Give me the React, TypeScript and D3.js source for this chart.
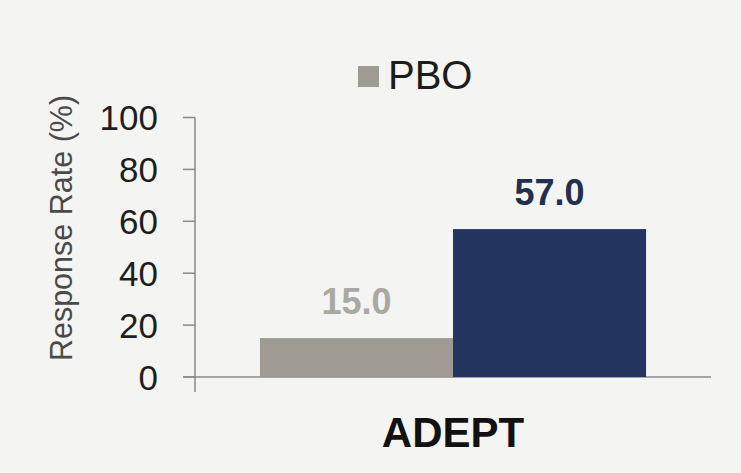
import React from "react";
import * as d3 from "d3";

const categories = ["ADEPT"];
const seriesNames = ["PBO", "Active"];
const pboValues = [15.0];
const activeValues = [57.0];
const yTicks = [0, 20, 40, 60, 80, 100];
const legendItems = ["PBO"];

const W = 741;
const H = 473;
const colors: Record<string, string> = { PBO: "#9f9b92", Active: "#24365f" };
const labelColors: Record<string, string> = { PBO: "#a9a8a3", Active: "#22304f" };

export default function App() {
  const y = d3.scaleLinear().domain([0, 100]).range([377, 117.5]);
  const x0 = d3.scaleBand<string>().domain(categories).range([195, 711]).paddingInner(0.144).paddingOuter(0.144);
  const x1 = d3.scaleBand<string>().domain(seriesNames).range([0, x0.bandwidth()]).padding(0);
  const font = "'Liberation Sans', Arial, sans-serif";

  const rows = categories.map((c, i) => ({
    cat: c,
    vals: [
      { s: "PBO", v: pboValues[i] },
      { s: "Active", v: activeValues[i] },
    ],
  }));

  return (
    <svg width={W} height={H} style={{ position: "absolute", left: 0, top: 0 }} fontFamily={font}>
      <rect x={0} y={0} width={W} height={H} fill="#f4f4f2" />
      {/* legend */}
      {legendItems.map((s) => (
        <g key={s}>
          <rect x={358} y={66} width={21} height={21} fill={colors[s]} />
          <text x={388} y={89} fontSize={40} fill="#1c1c1c">{s}</text>
        </g>
      ))}
      {/* y axis */}
      <line x1={195} x2={195} y1={y(100)} y2={392} stroke="#8a8a8a" strokeWidth={1.5} />
      {yTicks.map((t) => (
        <g key={t}>
          <line x1={183} x2={195} y1={y(t)} y2={y(t)} stroke="#8a8a8a" strokeWidth={1.5} />
          <text x={158} y={y(t)} dy="0.36em" textAnchor="end" fontSize={35} fill="#1e1e1e">{t}</text>
        </g>
      ))}
      {/* baseline */}
      <line x1={183} x2={711} y1={y(0)} y2={y(0)} stroke="#8a8a8a" strokeWidth={1.5} />
      {/* bars */}
      {rows.map((r) => (
        <g key={r.cat} transform={`translate(${x0(r.cat)},0)`}>
          {r.vals.map((d) => (
            <g key={d.s}>
              <rect x={x1(d.s)} y={y(d.v)} width={x1.bandwidth()} height={y(0) - y(d.v)} fill={colors[d.s]} />
              <text
                x={(x1(d.s) as number) + x1.bandwidth() / 2}
                y={y(d.v) - 24}
                textAnchor="middle"
                fontSize={36}
                fontWeight="bold"
                fill={labelColors[d.s]}
              >
                {d.v.toFixed(1)}
              </text>
            </g>
          ))}
          <text x={x0.bandwidth() / 2} y={447} textAnchor="middle" fontSize={42} fontWeight="bold" fill="#111">
            {r.cat}
          </text>
        </g>
      ))}
      {/* y title */}
      <text
        transform={`translate(72, 228) rotate(-90)`}
        textAnchor="middle"
        fontSize={30.5}
        fill="#4a4a4a"
      >
        Response Rate (%)
      </text>
    </svg>
  );
}
